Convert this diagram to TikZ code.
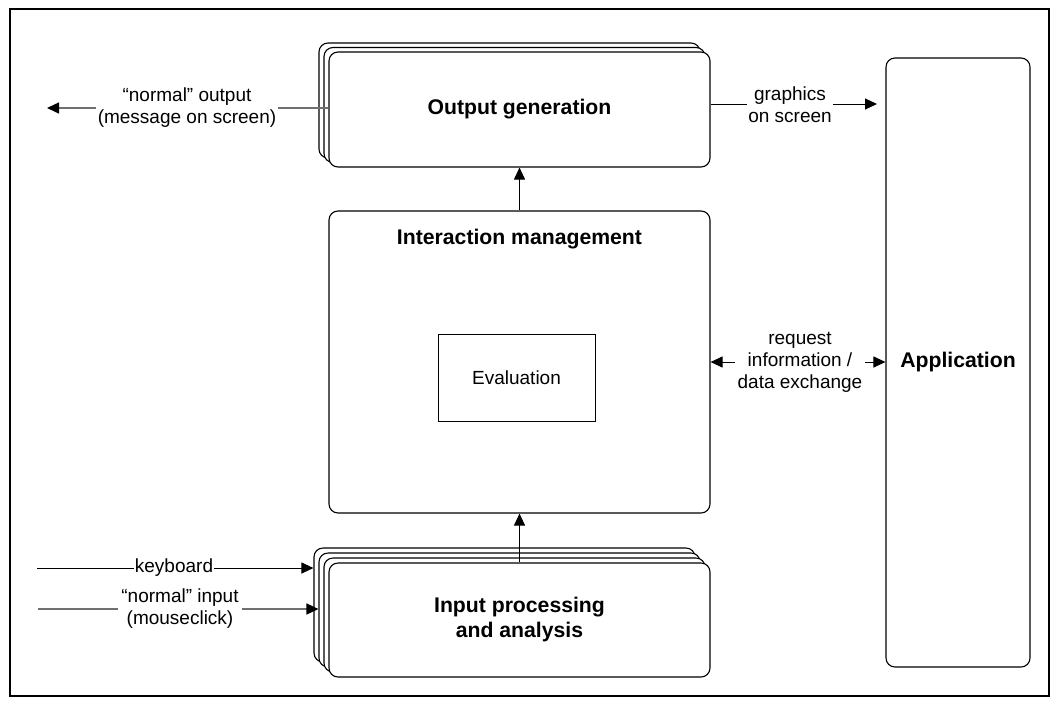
\documentclass[tikz,border=0pt]{standalone}
\usepackage{fontspec}
\setmainfont{Liberation Sans}
\usetikzlibrary{arrows.meta}
\definecolor{lgry}{RGB}{112,112,112}
\begin{document}
\begin{tikzpicture}[x=1pt,y=-1pt,
  box/.style={draw, line width=1.1pt, rounded corners=9pt, fill=white, inner sep=0pt},
  lbl/.style={font=\fontsize{19}{22}\selectfont, align=center, inner sep=1.5pt, fill=white},
  ttl/.style={font=\fontsize{21.2}{25}\selectfont\bfseries, align=center},
  conn/.style={line width=1pt},
  gconn/.style={line width=1.4pt, lgry},
  tip/.style={-{Triangle[length=12pt,width=11pt,black]}},
  dtip/.style={{Triangle[length=12pt,width=11pt,black]}-{Triangle[length=12pt,width=11pt,black]}},
]
\useasboundingbox (0,0) rectangle (1059,705);
\node[draw, line width=1.1pt, minimum width=1039pt, minimum height=687pt, inner sep=0pt] (frame) at (529.5,352.5) {};

% output generation stack
\node[box, minimum width=381pt, minimum height=115pt] (out3) at (509.5,100.5) {};
\node[box, minimum width=381pt, minimum height=115pt] (out2) at (514.5,105) {};
\node[box, minimum width=381pt, minimum height=115pt, ttl] (out) at (519.5,109.5) {Output generation};

% interaction management
\node[box, minimum width=381pt, minimum height=302pt] (inter) at (519.5,362) {};
\node[ttl] (intertitle) at (519.5,239) {Interaction management};
\node[draw, line width=1pt, fill=white, minimum width=157pt, minimum height=87pt, inner sep=0pt,
      font=\fontsize{19}{22}\selectfont] (eval) at (516.5,377.5) {Evaluation};

% input processing stack
\node[box, minimum width=381pt, minimum height=114pt] (inp4) at (504.5,605) {};
\node[box, minimum width=381pt, minimum height=114pt] (inp3) at (509.5,610) {};
\node[box, minimum width=381pt, minimum height=114pt] (inp2) at (514.5,615) {};
\node[box, minimum width=381pt, minimum height=114pt, ttl] (inp) at (519.5,620) {Input processing\\and analysis};

% application
\node[box, minimum width=144pt, minimum height=609pt, ttl] (app) at (958,362.5) {Application};

% vertical connectors
\draw[conn,tip] (inter.north) -- (out.south);
\draw[conn,tip] (inp.north) -- (inter.south);

% graphics on screen
\coordinate (gs) at (877,104);
\draw[conn,tip] (out.east |- gs) -- (gs);
\node[lbl] (gslbl) at (790,104.5) {graphics\\on screen};

% request information
\draw[conn,dtip] (inter.east) -- (app.west |- inter.east);
\node[lbl, inner sep=3pt] (reqlbl) at (800,362) {request\\information /\\data exchange};

% normal output
\coordinate (no) at (47,108);
\draw[gconn,tip] (out.west |- no) -- (no);
\node[lbl] (nolbl) at (187,108) {“normal” output\\(message on screen)};

% keyboard
\coordinate (kb) at (37,568);
\draw[conn,tip] (kb) -- (inp4.west |- kb);
\node[lbl, inner sep=1pt] (kblbl) at (174,568) {keyboard};

% normal input
\coordinate (ni) at (38,609);
\draw[gconn,tip] (ni) -- (inp3.west |- ni);
\node[lbl, inner sep=3pt] (nilbl) at (180,609) {“normal” input\\(mouseclick)};
\end{tikzpicture}
\end{document}
